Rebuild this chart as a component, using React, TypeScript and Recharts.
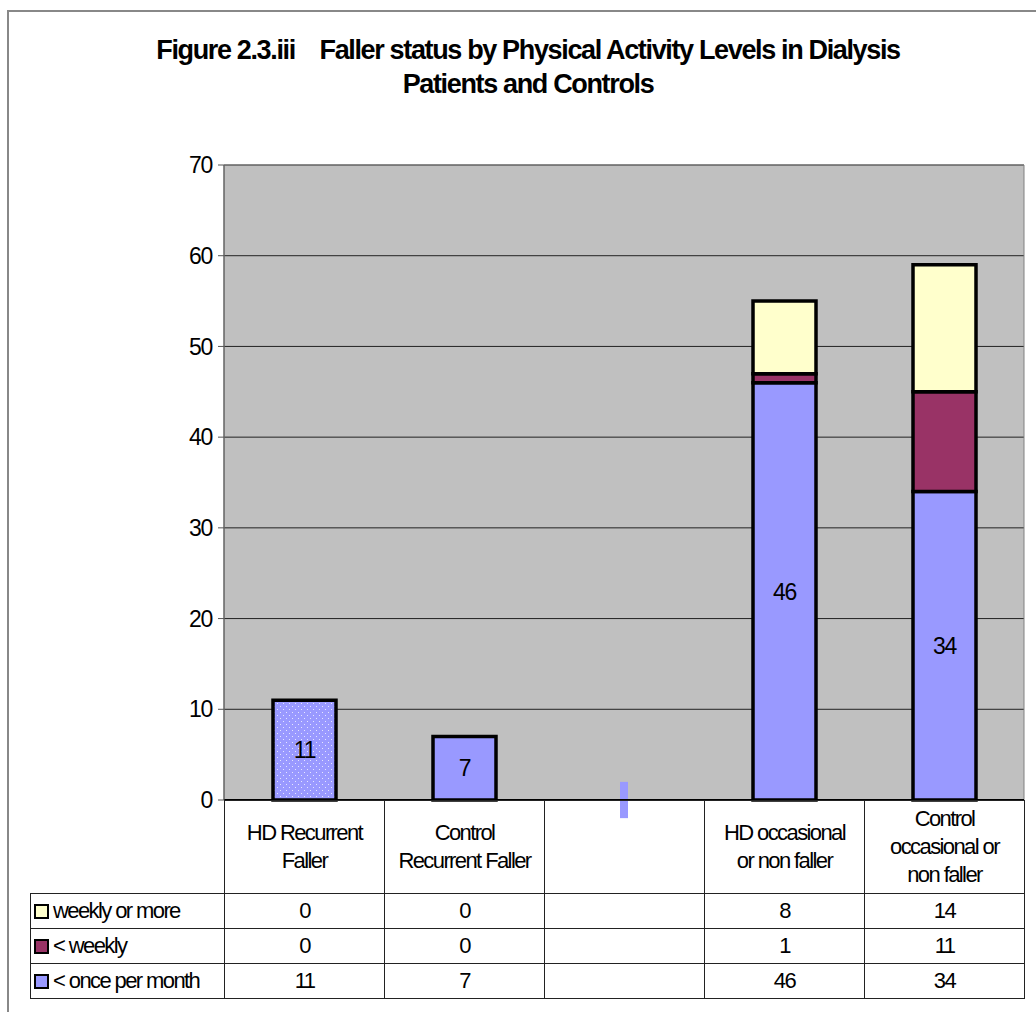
import { BarChart, Bar, XAxis, YAxis, CartesianGrid, ReferenceArea, ReferenceLine, LabelList, Cell } from 'recharts';

const categories = ['HD Recurrent\nFaller', 'Control\nRecurrent Faller', ' ', 'HD occasional\nor non faller', 'Control\noccasional or\nnon faller'];
const onceMonth = [11, 7, null, 46, 34];
const lessWeekly = [0, 0, null, 1, 11];
const weeklyMore = [0, 0, null, 8, 14];
const yTicks = [0, 10, 20, 30, 40, 50, 60, 70];

const series = [
  { key: 'weekly', name: 'weekly or more', color: '#FFFFCC', values: weeklyMore },
  { key: 'lessWeekly', name: '< weekly', color: '#993366', values: lessWeekly },
  { key: 'once', name: '< once per month', color: '#9999FF', values: onceMonth },
];

const chartData = categories.map((c, i) => ({
  cat: c,
  once: onceMonth[i] || null,
  lessWeekly: lessWeekly[i] || null,
  weekly: weeklyMore[i] || null,
}));

const font = '"Liberation Sans", Arial, sans-serif';
const colX = [224, 384, 544, 704, 864, 1024];
const rowY = [800, 893, 928, 963, 998];

function TableCell({ x0, x1, y0, y1, children, align = 'center' }: any) {
  return (
    <div
      style={{
        position: 'absolute',
        left: x0,
        top: y0,
        width: x1 - x0 + 1,
        height: y1 - y0 + 1,
        boxSizing: 'border-box',
        border: '1px solid #222',
        display: 'flex',
        alignItems: 'center',
        justifyContent: align === 'left' ? 'flex-start' : 'center',
        textAlign: 'center',
        whiteSpace: 'pre-line',
        fontFamily: font,
        fontSize: 22,
        letterSpacing: -1.6,
        lineHeight: '28px',
        color: '#000',
      }}
    >
      {children}
    </div>
  );
}

export default function App() {
  return (
    <div style={{ position: 'relative', width: 1036, height: 1012, background: '#fff', overflow: 'hidden' }}>
      <style>{`body{margin:0}`}</style>
      <div style={{ position: 'absolute', left: 7, top: 10, width: 1100, height: 1100, borderLeft: '2px solid #888', borderTop: '2px solid #888' }} />
      <div
        style={{
          position: 'absolute',
          left: 28,
          top: 33,
          width: 1000,
          textAlign: 'center',
          fontFamily: font,
          fontWeight: 'bold',
          fontSize: 27,
          letterSpacing: -1.35,
          lineHeight: '34px',
          color: '#000',
        }}
      >
        Figure 2.3.iii&nbsp;&nbsp;&nbsp;&nbsp;Faller status by Physical Activity Levels in Dialysis
        <br />
        Patients and Controls
      </div>
      <div style={{ position: 'absolute', left: 0, top: 0 }}>
        <BarChart
          width={1036}
          height={1012}
          data={chartData}
          margin={{ top: 165, right: 12, left: 164, bottom: 211 }}
          barSize={63}
        >
          <defs>
            <pattern id="dots" width="6" height="6" patternUnits="userSpaceOnUse">
              <rect width="6" height="6" fill="#9999FF" />
              <rect x="1" y="1" width="1" height="1" fill="#e6e6ff" />
              <rect x="4" y="4" width="1" height="1" fill="#e6e6ff" />
            </pattern>
          </defs>
          <CartesianGrid vertical={false} stroke="#222" fill="#C0C0C0" fillOpacity={1} />
          <ReferenceArea x1={categories[0]} x2={categories[4]} y1={0} y2={70} fill="none" stroke="#808080" strokeWidth={1} />
          <XAxis dataKey="cat" tick={false} tickLine={false} height={1} axisLine={{ stroke: '#000', strokeWidth: 2 }} />
          <YAxis
            domain={[0, 70]}
            ticks={yTicks}
            width={60}
            tickSize={6}
            tickMargin={6}
            axisLine={{ stroke: '#555' }}
            tickLine={{ stroke: '#555' }}
            tick={{ fill: '#000', fontSize: 23, fontFamily: font, letterSpacing: -1.3 }}
            interval={0}
          />
          <Bar dataKey="once" stackId="a" fill="#9999FF" stroke="#000" strokeWidth={3.5} isAnimationActive={false}>
            {chartData.map((d, i) => (
              <Cell key={i} fill={i === 0 ? 'url(#dots)' : '#9999FF'} />
            ))}
            <LabelList dataKey="once" position="center" fill="#000" fontSize={23} fontFamily={font} letterSpacing={-1.2} />
          </Bar>
          <Bar dataKey="lessWeekly" stackId="a" fill="#993366" stroke="#000" strokeWidth={3.5} isAnimationActive={false} />
          <Bar dataKey="weekly" stackId="a" fill="#FFFFCC" stroke="#000" strokeWidth={3.5} isAnimationActive={false} />
          <ReferenceLine
            segment={[{ x: categories[2], y: 2 }, { x: categories[2], y: -2 }]}
            stroke="#9999FF"
            strokeWidth={8}
            ifOverflow="visible"
          />
        </BarChart>
      </div>

      {/* data table */}
      {categories.map((c, i) => (
        <TableCell key={'h' + i} x0={colX[i]} x1={colX[i + 1]} y0={rowY[0]} y1={rowY[1]}>
          {c.trim()}
        </TableCell>
      ))}
      {series.map((s, r) => (
        <div key={s.key}>
          <TableCell x0={30} x1={224} y0={rowY[r + 1]} y1={rowY[r + 2]} align="left">
            <span
              style={{
                display: 'inline-block',
                width: 11,
                height: 11,
                marginLeft: 3,
                marginRight: 4,
                background: s.color,
                border: '2px solid #000',
              }}
            />
            {s.name}
          </TableCell>
          {s.values.map((v, i) => (
            <TableCell key={i} x0={colX[i]} x1={colX[i + 1]} y0={rowY[r + 1]} y1={rowY[r + 2]}>
              {v === null ? '' : String(v)}
            </TableCell>
          ))}
        </div>
      ))}
    </div>
  );
}
